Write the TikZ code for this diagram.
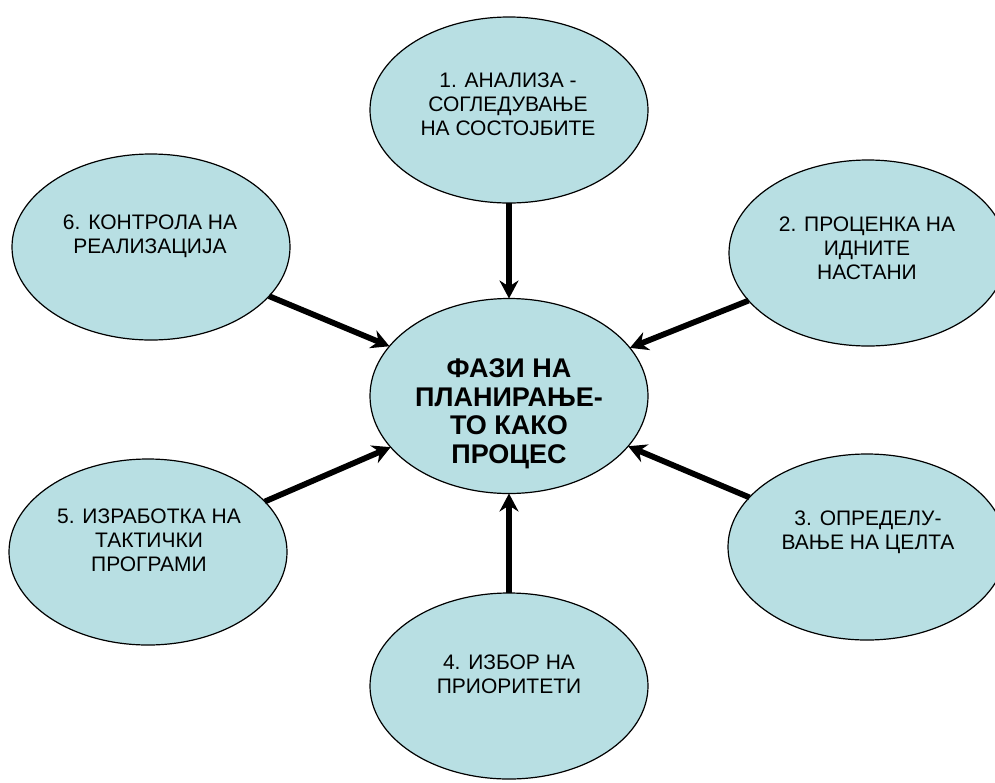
\documentclass[tikz,border=0pt]{standalone}
\usepackage{fontspec}
\setmainfont{Liberation Sans}
\usetikzlibrary{arrows.meta,shapes.geometric}
\definecolor{blobfill}{RGB}{184,223,227}
\begin{document}
\begin{tikzpicture}[x=1pt,y=-1pt,
  blob/.style={ellipse, draw=black, line width=1.2pt, fill=blobfill, minimum width=278pt, minimum height=186pt, inner sep=0pt, outer sep=0pt},
  txt/.style={align=center, font=\fontsize{21}{24.2}\selectfont, inner sep=0pt},
  bigtxt/.style={align=center, font=\fontsize{27}{28.5}\selectfont\bfseries, inner sep=0pt},
  link/.style={line width=5.8pt, -{Stealth[length=18pt,width=19pt,inset=6pt]}}
]
\clip (0,0) rectangle (995,782);
\fill[white] (0,0) rectangle (995,782);
\node[blob] (e1) at (509,110) {};
\node[blob] (e2) at (868,253) {};
\node[blob] (e3) at (867,547) {};
\node[blob] (e4) at (509,686) {};
\node[blob] (e5) at (148,552) {};
\node[blob] (e6) at (151,247) {};
\node[blob, minimum height=195pt] (c) at (509,396) {};

\node[txt] (t1) at (508,104) {1. АНАЛИЗА -\\СОГЛЕДУВАЊЕ\\НА СОСТОЈБИТЕ};
\node[txt] (t2) at (867,248) {2. ПРОЦЕНКА НА\\ИДНИТЕ\\НАСТАНИ};
\node[txt] (t3) at (868,532) {3. ОПРЕДЕЛУ-\\ВАЊЕ НА ЦЕЛТА};
\node[txt] (t4) at (509,674) {4. ИЗБОР НА\\ПРИОРИТЕТИ};
\node[txt] (t5) at (149,540) {5. ИЗРАБОТКА НА\\ТАКТИЧКИ\\ПРОГРАМИ};
\node[txt] (t6) at (150,236) {6. КОНТРОЛА НА\\РЕАЛИЗАЦИЈА};
\node[bigtxt] (ct) at (509,414) {ФАЗИ НА\\ПЛАНИРАЊЕ-\\ТО КАКО\\ПРОЦЕС};

\draw[link] (e1) -- (c);
\draw[link] (e2) -- (c);
\draw[link] (e3) -- (c);
\draw[link] (e4) -- (c);
\draw[link] (e5) -- (c);
\draw[link] (e6) -- (c);
\end{tikzpicture}
\end{document}
